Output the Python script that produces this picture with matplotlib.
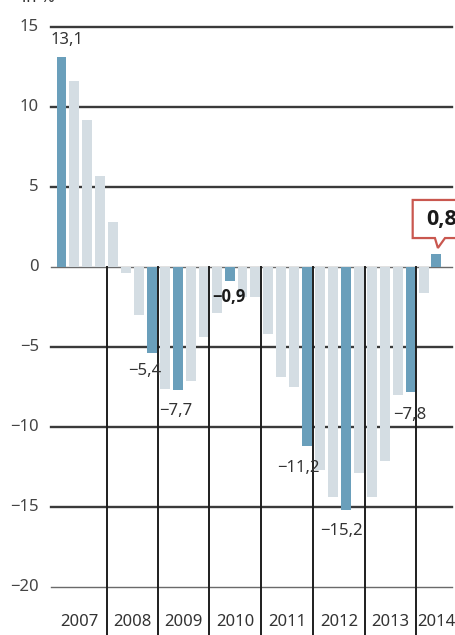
import matplotlib.pyplot as plt
from matplotlib.patches import Polygon

# Veränderung in %, 30 Werte von 2007 bis 2014
values = [13.1, 11.6, 9.2, 5.7, 2.8, -0.4, -3.0, -5.4, -7.6, -7.7,
          -7.1, -4.4, -2.9, -0.9, -1.9, -1.9, -4.2, -6.9, -7.5, -11.2,
          -12.7, -14.4, -15.2, -12.9, -14.4, -12.1, -8.0, -7.8, -1.6, 0.8]
highlight = [0, 7, 9, 13, 19, 22, 27, 29]
bold_labels = [13]
years = ["2007", "2008", "2009", "2010", "2011", "2012", "2013", "2014"]
y_ticks = [15, 10, 5, 0, -5, -10, -15, -20]

# Lage der Jahrestrenner (in Balken-Einheiten)
year_bounds = [-0.81, 3.52, 7.46, 11.41, 15.43, 19.45, 23.47, 27.41, 31.0]
# Versatz der Beschriftungen (dx, dy)
label_offsets = {0: (0.46, 1.09), 7: (-0.54, -1.1), 9: (-0.18, -1.3),
                 13: (-0.05, -0.98), 19: (-0.67, -1.36), 22: (-0.35, -1.3),
                 27: (-0.05, -1.45)}

DARK = "#6a9fbb"
LIGHT = "#d4dde3"
TEXT = "#333333"
BOLD_FONT = ["Open Sans", "DejaVu Sans"]

plt.rcParams['font.family'] = ['Noto Sans', 'DejaVu Sans']


def fmt(v):
    s = "{:.1f}".format(abs(v)).replace(".", ",")
    return ("\u2212" + s) if v < 0 else s


def fmt_tick(t):
    return ("\u2212" + str(abs(t))) if t < 0 else str(t)


fig = plt.figure(figsize=(4.56, 6.35), dpi=100)
ax = fig.add_axes([0, 0, 1, 1])
ax.set_xlim(-4.756, 30.51)
ax.set_ylim(-23.0, 16.6875)
ax.axis("off")

# horizontale Linien
for t in y_ticks:
    if t == 0 or t == -20:
        ax.plot([-0.81, 30.2], [t, t], color="#6a6a6a", lw=1.0, zorder=1)
    else:
        ax.plot([-0.81, 30.2], [t, t], color="#3a3a3a", lw=1.7, zorder=1)
    ax.text(-1.74, t, fmt_tick(t), ha="right", va="center",
            fontsize=12, color="#444444")

# Balken
xs = list(range(len(values)))
colors = [DARK if i in highlight else LIGHT for i in xs]
ax.bar(xs, values, width=0.77, color=colors, zorder=2)

# Jahrestrenner
for b in year_bounds[1:-1]:
    ax.plot([b, b], [0, -23.5], color="#1e1e1e", lw=1.4, zorder=3,
            clip_on=False)

for k in range(len(years)):
    xm = (year_bounds[k] + year_bounds[k + 1]) / 2
    if k == len(years) - 1:
        xm = 29.0
    ax.text(xm, -22.19, years[k], ha="center", va="center", fontsize=12,
            color=TEXT)

# Beschriftungen
for i in highlight:
    v = values[i]
    if i in label_offsets:
        dx, dy = label_offsets[i]
        if i in bold_labels:
            ax.text(i + dx, v + dy, fmt(v), ha="center", va="center",
                    fontsize=12, color="#1a1a1a", fontweight="bold",
                    family=BOLD_FONT, zorder=4)
        else:
            ax.text(i + dx, v + dy, fmt(v), ha="center", va="center",
                    fontsize=12, color=TEXT, zorder=4)

# letzter Wert mit Sprechblase
i = len(values) - 1
v = values[i]
tip_x, tip_y = i + 0.11, v + 0.39
box = Polygon([(i - 1.84, v + 3.39), (i + 3.0, v + 3.39), (i + 3.0, v + 1.01),
               (tip_x + 0.55, v + 1.01), (tip_x, tip_y), (tip_x - 0.23, v + 1.01),
               (i - 1.84, v + 1.01)], closed=True, facecolor="white",
              edgecolor="#c9574f", lw=1.6, zorder=5, clip_on=False)
ax.add_patch(box)
ax.text(i - 0.8, v + 2.2, fmt(v), ha="left", va="center", fontsize=15.5,
        fontweight="bold", family=BOLD_FONT, color="#1a1a1a", zorder=6)

fig.text(0.048, 0.997, "in %", ha="left", va="baseline", fontsize=12,
         color=TEXT)

fig.savefig("out.png", dpi=100)
